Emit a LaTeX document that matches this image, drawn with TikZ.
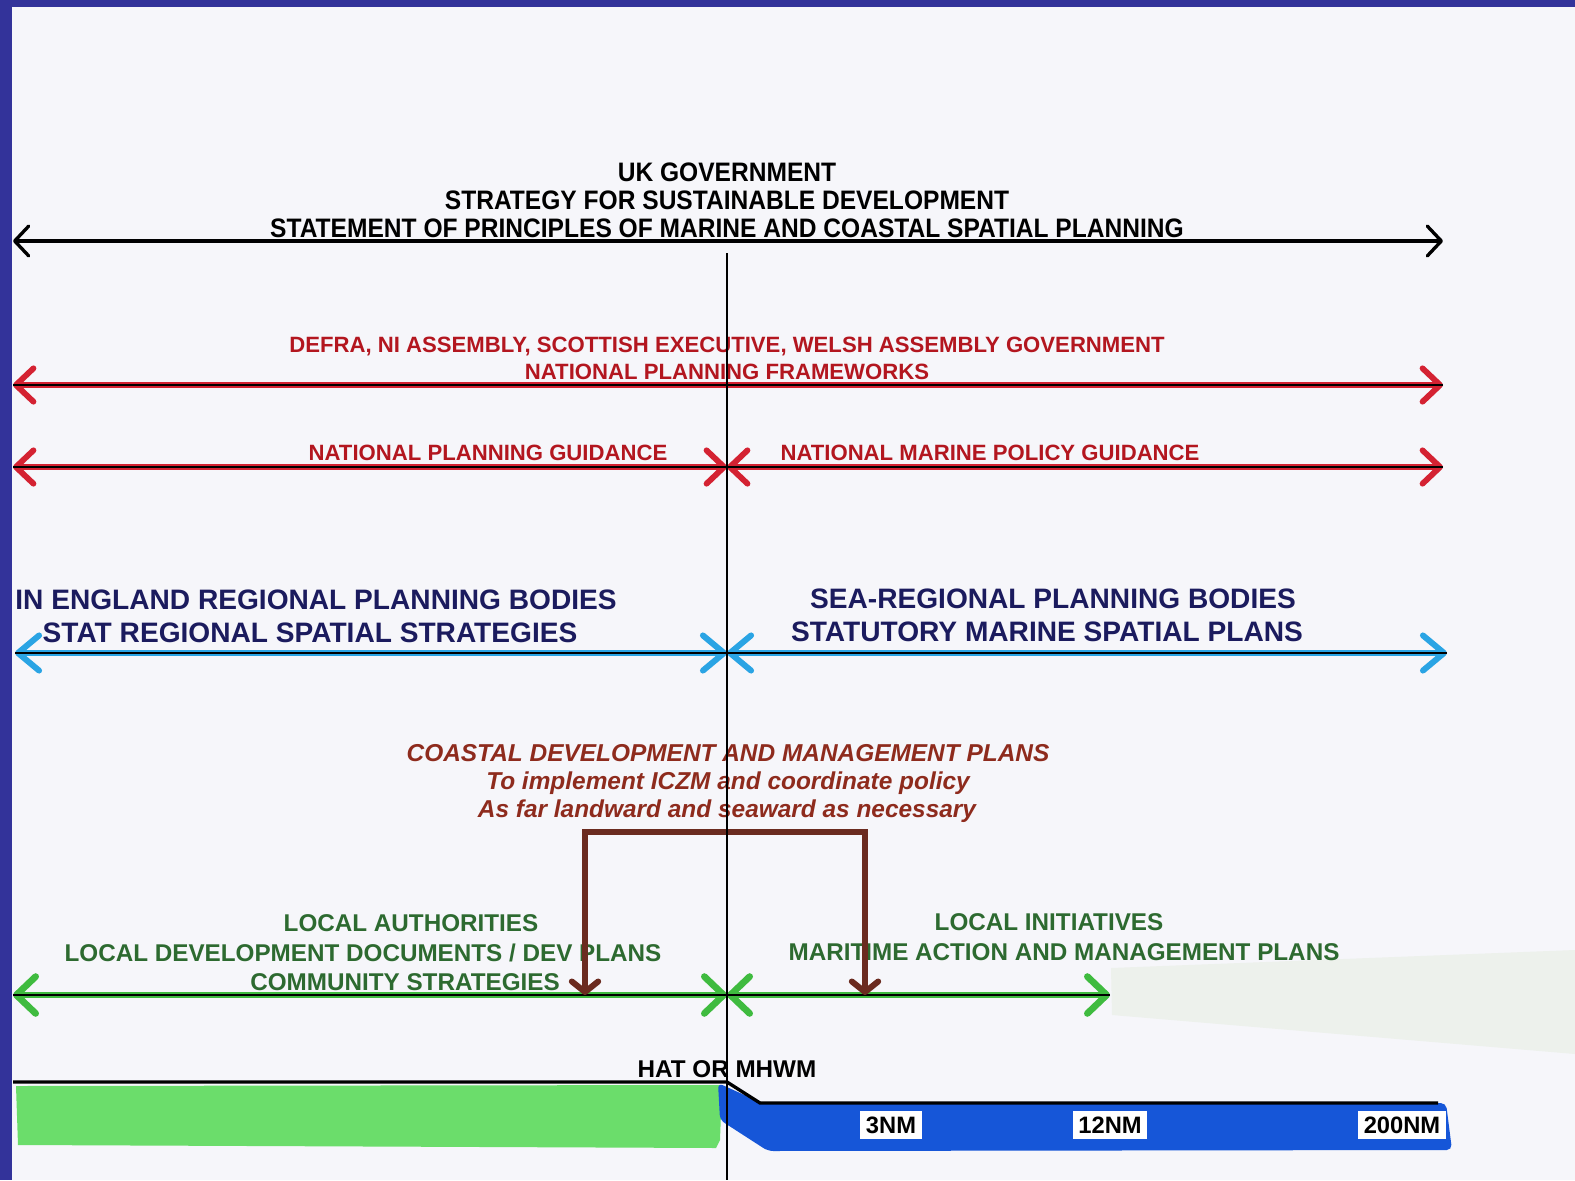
\documentclass[tikz,border=0pt]{standalone}
\usepackage{fontspec}
\setmainfont{Liberation Sans}
\newfontfamily\narrowsans[FakeStretch=0.92]{Liberation Sans}
\usetikzlibrary{arrows.meta}

\definecolor{frameblue}{HTML}{33339A}
\definecolor{paper}{HTML}{F6F6FA}
\definecolor{sheet}{HTML}{EDF1EC}
\definecolor{redpen}{HTML}{D42232}
\definecolor{redtext}{HTML}{B3161F}
\definecolor{navytext}{HTML}{1B1B5E}
\definecolor{cyanpen}{HTML}{2AA4E4}
\definecolor{browntext}{HTML}{8E2B1D}
\definecolor{brownpen}{HTML}{6B2B20}
\definecolor{greentext}{HTML}{2D6A30}
\definecolor{greenpen}{HTML}{3FBB3F}
\definecolor{landgreen}{HTML}{6BDD6B}
\definecolor{seablue}{HTML}{1656D8}

\tikzset{
  govtip/.tip={Straight Barb[length=8pt,width=17pt,round]},
  redtip/.tip={Straight Barb[length=10pt,width=19pt,round]},
  cyantip/.tip={Straight Barb[length=12pt,width=20pt,round]},
  greentip/.tip={Straight Barb[length=11pt,width=21pt,round]},
  browntip/.tip={Straight Barb[length=6pt,width=15pt,round]},
  core/.style={draw=black,line width=1pt},
  nmlabel/.style={fill=white,text=black,inner sep=3.2pt,font=\bfseries\fontsize{13.5}{15}\selectfont}
}

\begin{document}
\begin{tikzpicture}[x=0.02cm,y=-0.02cm]
        % frame and paper
        \fill[frameblue] (0,0) rectangle (1575,1180);
        \fill[paper] (12,7) rectangle (1575,1180);
        \useasboundingbox (0,0) rectangle (1575,1180);
        \fill[sheet] (1111,968) -- (1575,950) -- (1575,1054) -- (1112,1015) -- cycle;

        % end points of the arrows
        \coordinate (govL) at (13,241);  \coordinate (govR) at (1443,241);
        \coordinate (dvL) at (13,385);   \coordinate (dvR) at (1443,385);
        \coordinate (npL) at (13,467);   \coordinate (npC) at (727,467);  \coordinate (npR) at (1443,467);
        \coordinate (rgL) at (15,653);   \coordinate (rgC) at (727,653);  \coordinate (rgR) at (1447,653);
        \coordinate (laL) at (13,995);   \coordinate (laC) at (727,995);  \coordinate (laR) at (1110,995);
        \coordinate (cdL) at (585,995);  \coordinate (cdR) at (865,995);
        \coordinate (axT) at (727,253);  \coordinate (axB) at (727,1180);

        \begin{scope}[every node/.style={font=\narrowsans\bfseries\fontsize{15.2}{17}\selectfont,text=black}]
            \node (uk) at (727,172) {UK GOVERNMENT};
            \node (ssd) at (727,200) {STRATEGY FOR SUSTAINABLE DEVELOPMENT};
            \node (soP) at (727,228) {STATEMENT OF PRINCIPLES OF MARINE AND COASTAL SPATIAL PLANNING};
        \end{scope}
        \begin{scope}[every node/.style={font=\bfseries\fontsize{12.6}{14}\selectfont,text=redtext}]
            \node (defra) at (727,346) {DEFRA, NI ASSEMBLY, SCOTTISH EXECUTIVE, WELSH ASSEMBLY GOVERNMENT};
            \node (npf) at (727,372) {NATIONAL PLANNING FRAMEWORKS};
            \node (npg) at (488,453) {NATIONAL PLANNING GUIDANCE};
            \node (nmpg) at (990,453) {NATIONAL MARINE POLICY GUIDANCE};
        \end{scope}
        \begin{scope}[every node/.style={font=\bfseries\fontsize{16}{18}\selectfont,text=navytext}]
            \node (engB) at (316,600) {IN ENGLAND REGIONAL PLANNING BODIES};
            \node (engS) at (310,633) {STAT REGIONAL SPATIAL STRATEGIES};
            \node (seaB) at (1053,599) {SEA-REGIONAL PLANNING BODIES};
            \node (seaP) at (1047,632) {STATUTORY MARINE SPATIAL PLANS};
        \end{scope}
        \begin{scope}[every node/.style={font=\bfseries\itshape\fontsize{13.9}{16}\selectfont,text=browntext}]
            \node (cdmp) at (728,753) {COASTAL DEVELOPMENT AND MANAGEMENT PLANS};
            \node (iczm) at (728,783) {To implement ICZM and coordinate policy};
            \node (far) at (727,811) {As far landward and seaward as necessary};
        \end{scope}
        \begin{scope}[every node/.style={font=\bfseries\fontsize{13.8}{16}\selectfont,text=greentext}]
            \node (la) at (411,923) {LOCAL AUTHORITIES};
            \node (ldd) at (363,953) {LOCAL DEVELOPMENT DOCUMENTS / DEV PLANS};
            \node (cs) at (405,982) {COMMUNITY STRATEGIES};
            \node (li) at (1049,922) {LOCAL INITIATIVES};
            \node (mamp) at (1064,952) {MARITIME ACTION AND MANAGEMENT PLANS};
        \end{scope}

        % government and national levels
        \draw [govtip-govtip, line width=1.9pt] (govL) -- (govR);
        \draw [redtip-redtip, draw=redpen, line width=3.3pt] (dvL) -- (dvR);
        \draw [core] (dvL) -- (dvR);
        \draw [redtip-redtip, draw=redpen, line width=3.3pt] (npL) -- (npC);
        \draw [redtip-redtip, draw=redpen, line width=3.3pt] (npC) -- (npR);
        \draw [core] (npL) -- (npR);
        % regional level
        \draw [cyantip-cyantip, draw=cyanpen, line width=3.4pt] (rgL) -- (rgC);
        \draw [cyantip-cyantip, draw=cyanpen, line width=3.4pt] (rgC) -- (rgR);
        \draw [core] (rgL) -- (rgR);
        % local level
        \draw [greentip-greentip, draw=greenpen, line width=3.8pt] (laL) -- (laC);
        \draw [greentip-greentip, draw=greenpen, line width=3.8pt] (laC) -- (laR);
        \draw [core] (laL) -- (laR);
        \draw [browntip-browntip, draw=brownpen, line width=3.4pt] (cdL) -- ++(0,-163) -| (cdR);

        % land and sea
        \fill[landgreen] (16,1086) -- (722,1085) -- (720,1140) -- (716,1148) -- (18,1145) -- cycle;
        \fill[seablue, rounded corners=3pt] (718,1083) -- (762,1103) -- (1446,1103) -- (1452,1150) -- (768,1151) -- (720,1120) -- cycle;
        \draw [line width=1.9pt] (13,1082) -- (727,1082) -- (760,1103) -- (1438,1103);
        \node (hat) [font=\bfseries\fontsize{13.8}{16}\selectfont] at (727,1069) {HAT OR MHWM};
        \node (nm3) [nmlabel] at (891,1125) {3NM};
        \node (nm12) [nmlabel] at (1110,1125) {12NM};
        \node (nm200) [nmlabel] at (1402,1125) {200NM};

        % land/sea divide
        \draw [line width=1.1pt] (axT) -- (axB);
    \end{tikzpicture}
\end{document}
